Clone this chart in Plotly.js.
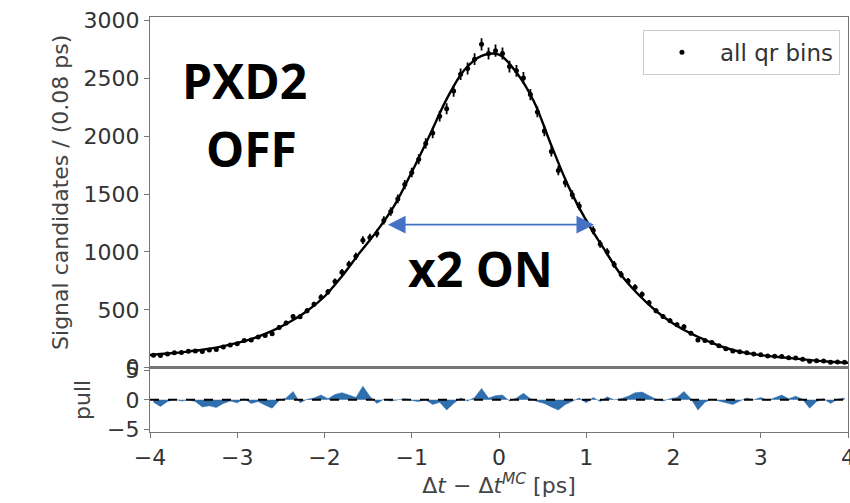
<!DOCTYPE html>
<html>
<head>
<meta charset="utf-8">
<script src="https://cdn.plot.ly/plotly-3.0.1.min.js"></script>
<style>html,body{margin:0;padding:0;background:#fff;}#chart{width:850px;height:503px;}</style>
</head>
<body>
<div id="chart"></div>
<script>
// ---- data ----
const binWidth = 0.08;
const counts = [108,105,119,129,132,141,144,140,152,158,
                179,197,207,235,240,265,279,293,347,386,
                442,441,492,547,609,655,744,824,894,962,
                1102,1124,1159,1272,1349,1458,1582,1686,1801,1938,
                2028,2173,2238,2390,2535,2585,2666,2794,2715,2739,
                2715,2602,2565,2504,2360,2210,2045,1867,1704,1600,
                1494,1397,1252,1188,1068,1000,892,806,748,695,
                634,562,492,442,406,371,354,298,240,235,
                217,190,163,145,138,130,118,112,101,98,
                97,86,83,73,55,59,57,47,48,46];
const fitValues = [110,122,137,155,180,214,258,318,395,490,
                   615,790,990,1180,1400,1690,2000,2320,2570,2695,
                   2705,2550,2300,1920,1560,1270,1030,800,630,490,
                   380,295,228,170,132,108,92,78,63,51,42];
const pulls = [-0.4,-1.1,-0.3,0.1,-0.2,0.0,-0.3,-1.2,-1.0,-1.3,
               -0.6,-0.2,-0.5,0.2,-0.6,-0.3,-0.9,-1.4,-0.1,0.3,
               1.4,-0.5,0.1,0.3,0.8,0.2,0.9,1.2,0.8,0.4,
               2.3,0.6,-0.6,0.1,-0.2,0.0,0.2,-0.1,-0.3,0.0,
               -0.8,-0.4,-1.7,-0.6,0.3,-0.2,0.4,1.9,0.3,0.7,
               0.8,-0.2,0.3,1.1,0.2,-0.3,-0.6,-1.2,-1.7,-0.8,
               -0.2,0.3,-0.5,0.4,-0.3,0.5,0.0,0.2,0.6,1.2,
               1.3,0.7,0.1,-0.2,0.2,0.4,1.4,0.2,-1.7,-0.4,
               0.1,-0.2,-0.5,-0.8,-0.2,0.3,0.0,0.4,-0.1,0.3,
               0.8,0.2,0.6,0.1,-1.4,-0.3,0.2,-0.6,0.1,0.3];
const yTickVals = [0,500,1000,1500,2000,2500,3000];
const pullTickVals = [-5,0,5];
const xTickVals = [-4,-3,-2,-1,0,1,2,3,4];

// bin centres and fit grid
const binCenters = counts.map((_, k) => +(-4 + binWidth/2 + k*binWidth).toFixed(2));
const fitX = fitValues.map((_, k) => +(-4 + 0.2*k).toFixed(2));
const errs = counts.map(c => Math.sqrt(c));

const tickFont = {family: 'DejaVu Sans', size: 22, color: '#333'};
const titleFont = {family: 'DejaVu Sans', size: 22, color: '#444'};
const frame = '#777';

const traces = [
  {x: fitX, y: fitValues, type: 'scatter', mode: 'lines', line: {color: '#000', width: 2.4, shape: 'spline'},
   xaxis: 'x', yaxis: 'y', showlegend: false, hoverinfo: 'skip'},
  {x: binCenters, y: counts, type: 'scatter', mode: 'markers', name: 'all qr bins',
   marker: {color: '#000', size: 5},
   error_y: {type: 'data', array: errs, visible: true, color: '#000', thickness: 1.8, width: 0},
   xaxis: 'x', yaxis: 'y'},
  {x: binCenters, y: pulls, type: 'scatter', mode: 'lines', fill: 'tozeroy',
   fillcolor: '#2f6fae', line: {color: '#2f6fae', width: 0.5},
   xaxis: 'x2', yaxis: 'y2', showlegend: false},
  {x: [-4, 4], y: [0, 0], type: 'scatter', mode: 'lines', line: {color: '#000', width: 2, dash: 'dash'},
   xaxis: 'x2', yaxis: 'y2', showlegend: false}
];

const layout = {
  width: 850, height: 503,
  margin: {l: 150, r: 2, t: 17, b: 71},
  paper_bgcolor: '#fff', plot_bgcolor: '#fff',
  showlegend: true,
  legend: {x: 0.9885, xanchor: 'right', y: 0.969, yanchor: 'top', itemwidth: 66,
           bgcolor: '#fff', bordercolor: '#ccc', borderwidth: 1,
           font: {family: 'DejaVu Sans', size: 23, color: '#333'}},
  xaxis: {domain: [0, 1], anchor: 'y', range: [-4, 4], showticklabels: false, ticks: '',
          showline: true, mirror: true, linecolor: frame, linewidth: 1.2, showgrid: false, zeroline: false},
  yaxis: {domain: [0.155, 1], anchor: 'x', range: [0, 3030], tickvals: yTickVals,
          ticks: 'outside', ticklen: 5, tickcolor: frame, tickfont: tickFont,
          showline: true, mirror: true, linecolor: frame, linewidth: 1.2, showgrid: false, zeroline: false,
          title: {text: 'Signal candidates / (0.08 ps)', font: titleFont, standoff: 8}},
  xaxis2: {domain: [0, 1], anchor: 'y2', range: [-4, 4], tickvals: xTickVals, ticklabeloverflow: 'allow',
           ticks: 'outside', ticklen: 5, tickcolor: frame, tickfont: tickFont,
           showline: true, mirror: true, linecolor: frame, linewidth: 1.2, showgrid: false, zeroline: false,
           title: {text: 'Δ<i>t</i> − Δ<i>t</i><sup><i>MC</i></sup> [ps]', font: titleFont, standoff: 6}},
  yaxis2: {domain: [0, 0.155], anchor: 'x2', range: [-5.4, 5.4], tickvals: pullTickVals,
           ticks: 'outside', ticklen: 5, tickcolor: frame, tickfont: tickFont,
           showline: true, mirror: true, linecolor: frame, linewidth: 1.2, showgrid: false, zeroline: false,
           title: {text: 'pull', font: titleFont, standoff: 10}},
  annotations: [
    {xref: 'paper', yref: 'paper', x: 0.136, y: 0.846, text: '<b>PXD2</b>', showarrow: false,
     xanchor: 'center', yanchor: 'middle', font: {family: 'Open Sans', size: 48, color: '#000'}},
    {xref: 'paper', yref: 'paper', x: 0.146, y: 0.682, text: '<b>OFF</b>', showarrow: false,
     xanchor: 'center', yanchor: 'middle', font: {family: 'Open Sans', size: 48, color: '#000'}},
    {xref: 'paper', yref: 'paper', x: 0.474, y: 0.395, text: '<b>x2 ON</b>', showarrow: false,
     xanchor: 'center', yanchor: 'middle', font: {family: 'Open Sans', size: 48, color: '#000'}},
    {xref: 'x', yref: 'y', x: 1.09, y: 1236, axref: 'x', ayref: 'y', ax: -1.29, ay: 1236,
     text: '', showarrow: true, arrowside: 'end+start', arrowhead: 2, arrowsize: 2.2,
     arrowwidth: 1.6, arrowcolor: '#4472c4', standoff: 0, startstandoff: 0}
  ]
};

Plotly.newPlot('chart', traces, layout, {displayModeBar: false, staticPlot: true});
</script>
</body>
</html>
